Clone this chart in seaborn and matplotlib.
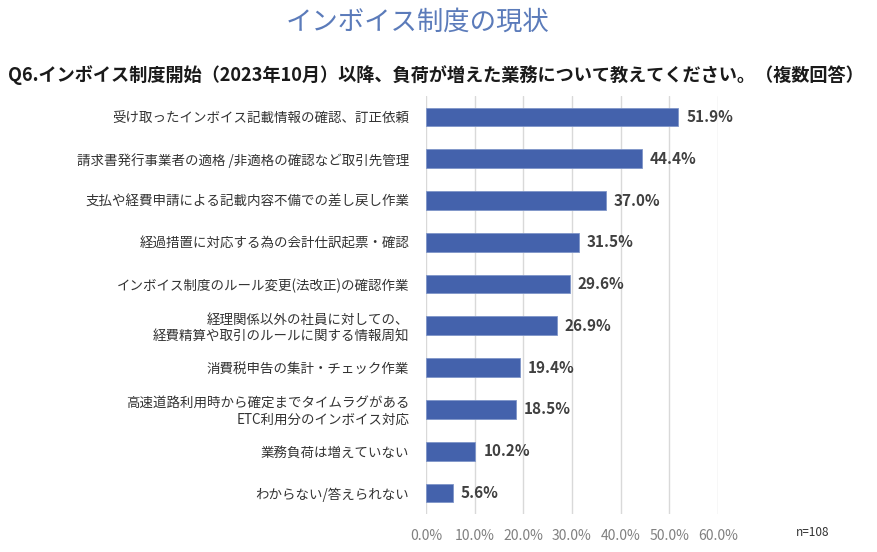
import seaborn as sns
import pandas as pd
import matplotlib.pyplot as plt

# Data
items = [
    '受け取ったインボイス記載情報の確認、訂正依頼',
    '請求書発行事業者の適格 /非適格の確認など取引先管理',
    '支払や経費申請による記載内容不備での差し戻し作業',
    '経過措置に対応する為の会計仕訳起票・確認',
    'インボイス制度のルール変更(法改正)の確認作業',
    '経理関係以外の社員に対しての、\n経費精算や取引のルールに関する情報周知',
    '消費税申告の集計・チェック作業',
    '高速道路利用時から確定までタイムラグがある\nETC利用分のインボイス対応',
    '業務負荷は増えていない',
    'わからない/答えられない',
]
percent = [51.9, 44.4, 37.0, 31.5, 29.6, 26.9, 19.4, 18.5, 10.2, 5.6]
ticks = [0, 10, 20, 30, 40, 50, 60]
tick_labels = ['0.0%', '10.0%', '20.0%', '30.0%', '40.0%', '50.0%', '60.0%']

df = pd.DataFrame({'item': items, 'percent': percent})

sns.set_theme(style='white')
plt.rcParams['font.family'] = ['Noto Sans CJK JP', 'DejaVu Sans']

fig = plt.figure(figsize=(8.78, 5.52), dpi=100)
ax = fig.add_axes([0.485, 0.069, 0.3326, 0.757])

sns.barplot(data=df, x='percent', y='item', color='#4462AC', width=0.45,
            saturation=1, ax=ax, edgecolor='#7f95c8', linewidth=0.6)

ax.set_xlim(0, 60)
ax.set_ylim(9.5, -0.5)
ax.set_xticks(ticks)
ax.set_xticklabels(tick_labels, fontsize=10, color='#808080')
ax.tick_params(axis='x', length=0, pad=11)
ax.tick_params(axis='y', length=0, pad=12, labelsize=9.7, labelcolor='#333333')
ax.set_xlabel('')
ax.set_ylabel('')
ax.grid(axis='x', color='#d9d9d9', linewidth=1)
ax.set_axisbelow(True)
for s in ax.spines.values():
    s.set_visible(False)

# value labels
for i, v in enumerate(percent):
    ax.text(v + 1.6, i, f'{v:.1f}%', va='center', ha='left', fontsize=11,
            fontweight='bold', color='#404040', clip_on=False)

fig.text(0.476, 0.96, 'インボイス制度の現状', ha='center', va='center',
         fontsize=19, color='#5B7BBA')
fig.text(0.497, 0.864, 'Q6.インボイス制度開始（2023年10月）以降、負荷が増えた業務について教えてください。（複数回答）',
         ha='center', va='center', fontsize=13.1, fontweight='bold', color='#1a1a1a')
fig.text(0.926, 0.035, 'n=108', ha='center', va='center', fontsize=8.5, color='#333333')

plt.savefig('out.png', dpi=100)
